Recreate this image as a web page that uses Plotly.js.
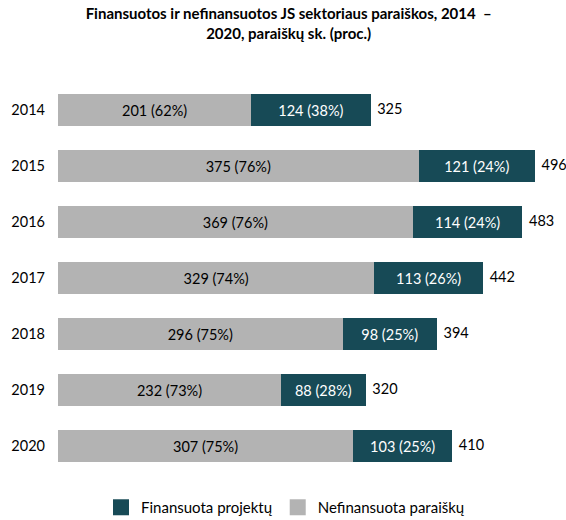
<!DOCTYPE html>
<html>
<head>
<meta charset="utf-8">
<script src="https://cdn.plot.ly/plotly-3.0.1.min.js"></script>
<style>html,body{margin:0;padding:0;background:#fff;}#chart{width:566px;height:520px;}</style>
</head>
<body>
<div id="chart"></div>
<script>
const years = ['2014', '2015', '2016', '2017', '2018', '2019', '2020'];
const nefinansuota = [201, 375, 369, 329, 296, 232, 307];
const finansuota = [124, 121, 114, 113, 98, 88, 103];
const nefPct = [62, 76, 76, 74, 75, 73, 75];
const finPct = [38, 24, 24, 26, 25, 28, 25];

const totals = years.map((_, i) => nefinansuota[i] + finansuota[i]);
const FONT = 'Lato, "Open Sans", sans-serif';
const GRAY = '#b3b3b3';
const TEAL = '#174a56';

const traces = [
  {
    type: 'bar', orientation: 'h', y: years, x: nefinansuota,
    marker: {color: GRAY}, showlegend: false,
    text: nefinansuota.map((v, i) => v + ' (' + nefPct[i] + '%)'),
    textposition: 'inside', insidetextanchor: 'middle', textangle: 0,
    insidetextfont: {color: '#000', size: 14.5, family: FONT},
    hoverinfo: 'skip'
  },
  {
    type: 'bar', orientation: 'h', y: years, x: finansuota,
    marker: {color: TEAL}, showlegend: false,
    text: finansuota.map((v, i) => v + ' (' + finPct[i] + '%)'),
    textposition: 'inside', insidetextanchor: 'middle', textangle: 0,
    insidetextfont: {color: '#fff', size: 14.5, family: FONT},
    hoverinfo: 'skip'
  },
  {
    type: 'scatter', mode: 'markers+text', y: years, x: totals,
    marker: {size: 9, color: 'rgba(0,0,0,0)'},
    text: totals.map(String), textposition: 'middle right',
    textfont: {color: '#000', size: 14.5, family: FONT},
    showlegend: false, hoverinfo: 'skip', cliponaxis: false
  },
  {
    type: 'scatter', mode: 'markers', x: [null], y: [null], name: 'Finansuota projektų',
    marker: {symbol: 'square', size: 16, color: TEAL}, showlegend: true
  },
  {
    type: 'scatter', mode: 'markers', x: [null], y: [null], name: 'Nefinansuota paraiškų',
    marker: {symbol: 'square', size: 16, color: GRAY}, showlegend: true
  }
];

const layout = {
  width: 566, height: 520,
  margin: {l: 58, r: 8, t: 82, b: 46},
  paper_bgcolor: '#fff', plot_bgcolor: '#fff',
  font: {family: FONT, size: 14, color: '#000'},
  barmode: 'stack', bargap: 0.43,
  title: {
    text: '<b>Finansuotos ir nefinansuotos JS sektoriaus paraiškos, 2014  –<br>2020, paraiškų sk. (proc.)</b>',
    font: {family: FONT, size: 15, color: '#000'},
    x: 0.51, xanchor: 'center', y: 0.963, yanchor: 'top'
  },
  xaxis: {range: [0, 520], visible: false, showgrid: false, zeroline: false},
  yaxis: {
    type: 'category', autorange: 'reversed', showgrid: false, zeroline: false,
    showline: false, ticks: '', ticklabelstandoff: 12,
    tickfont: {family: FONT, size: 14.5, color: '#000'}
  },
  legend: {
    orientation: 'h', traceorder: 'normal',
    xref: 'paper', x: 0.455, xanchor: 'center',
    yref: 'container', y: 0.024, yanchor: 'middle',
    font: {family: FONT, size: 15, color: '#000'}, itemsizing: 'trace'
  },
  showlegend: true
};

Plotly.newPlot('chart', traces, layout, {staticPlot: true, displayModeBar: false});
</script>
</body>
</html>
